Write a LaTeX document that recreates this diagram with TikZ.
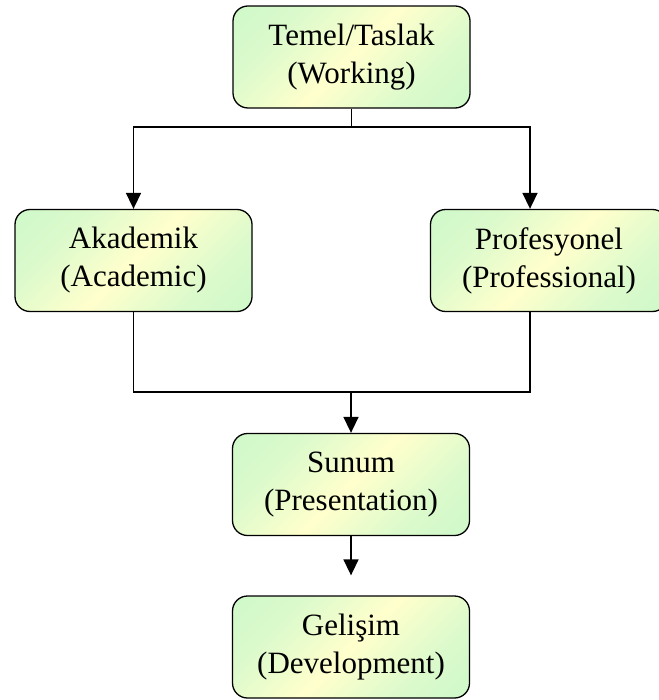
\documentclass[tikz,border=0pt]{standalone}
\usepackage{fontspec}
\setmainfont{Liberation Serif}
\usetikzlibrary{arrows.meta,positioning}
\pgfdeclarehorizontalshading{greenyellow}{100bp}{rgb(0bp)=(0.76,0.97,0.78); rgb(30bp)=(0.86,0.98,0.80); rgb(50bp)=(1,1,0.80); rgb(70bp)=(0.86,0.98,0.80); rgb(100bp)=(0.76,0.97,0.78)}
\tikzset{
	stagebox/.style={draw, line width=1.3pt, rounded corners=15pt, shading=greenyellow, shading angle=-45,
			minimum width=237pt, minimum height=102pt, align=center, inner sep=0pt},
	flow/.style={line width=1.6pt, -{Triangle[width=15pt,length=16pt]}},
	link/.style={line width=1.6pt},
}
\begin{document}
\begin{tikzpicture}[
				x=1pt, y=-1pt,
				every node/.style={
						font=\fontsize{31}{38}\selectfont,
					},]
			\useasboundingbox (0,0) rectangle (658,700);
			\node[stagebox] (temel) at (351.5,57) {Temel/Taslak\\(Working)};
			\node[stagebox] (akademik) at (133.5,260.5) {Akademik\\(Academic)};
			\node[stagebox] (profesyonel) at (549,260.5) {Profesyonel\\(Professional)};
			\node[stagebox] (sunum) at (351,484.5) {Sunum\\(Presentation)};
			\node[stagebox] (gelisim) at (351,647) {Geli\c{s}im\\(Development)};
			% split and merge points
			\coordinate (split) at (351.5,127);
			\coordinate (merge) at (351,392);
			\coordinate (profin) at ([xshift=-19pt]profesyonel.north);
			\coordinate (profout) at ([xshift=-19pt]profesyonel.south);
			\coordinate (gelisimin) at ([yshift=20pt]gelisim.north);
			\draw [link] (temel.south) -- (split);
			\draw [flow] (split) -| (akademik.north);
			\draw [flow] (split) -| (profin);
			\draw [link] (akademik.south) |- (merge);
			\draw [link] (profout) |- (merge);
			\draw [flow] (merge) -- (sunum.north);
			\draw [flow] (sunum.south) -- (gelisimin);
		\end{tikzpicture}
\end{document}
